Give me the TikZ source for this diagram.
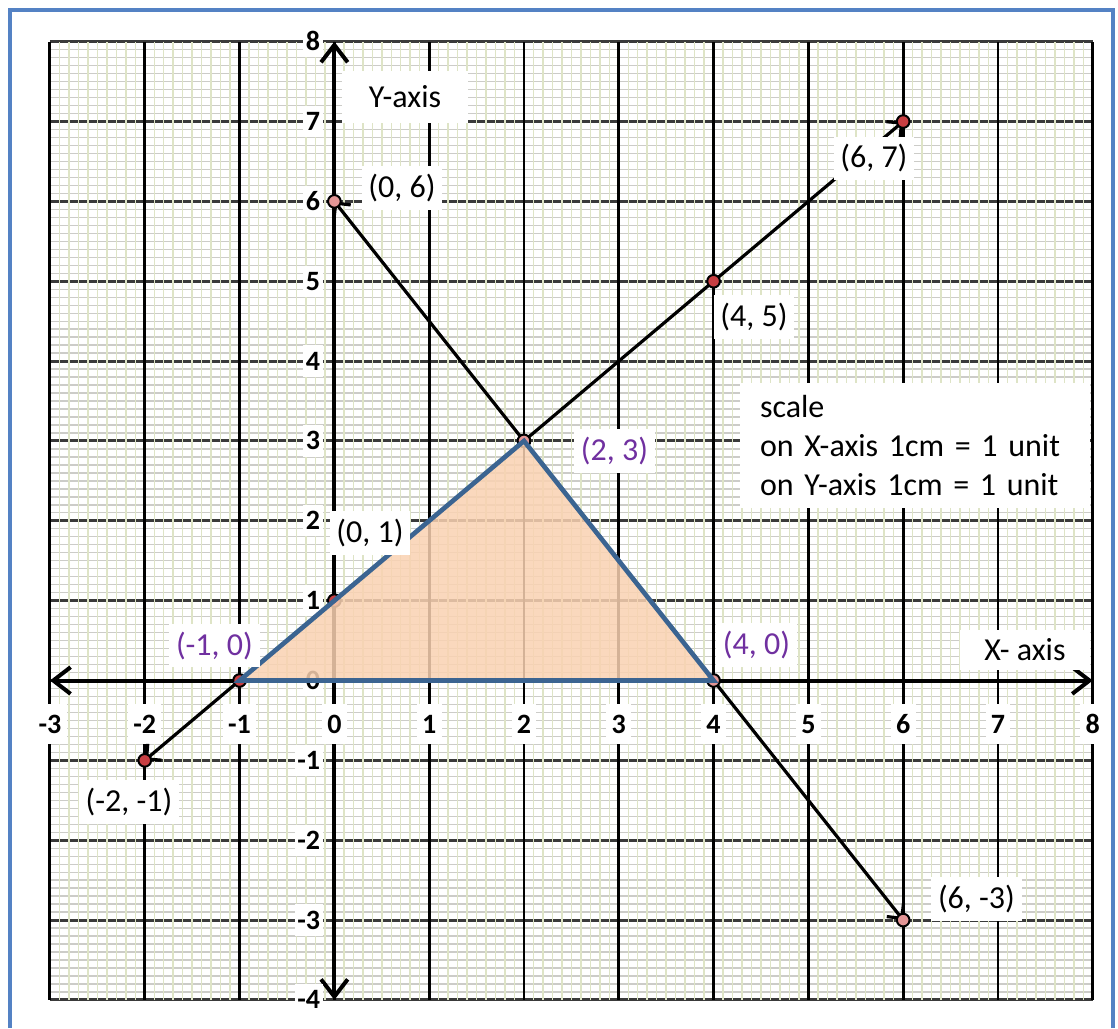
\documentclass[tikz,border=0pt]{standalone}
\usepackage{fontspec}
\setmainfont{Carlito}
\usetikzlibrary{arrows.meta}
\definecolor{frameblue}{RGB}{84,130,196}
\definecolor{vminorc}{RGB}{222,228,198}
\definecolor{hminorc}{RGB}{204,204,200}
\definecolor{hmajorc}{RGB}{58,58,58}
\definecolor{tric}{RGB}{250,210,178}
\definecolor{triedgec}{RGB}{59,100,145}
\definecolor{dotredc}{RGB}{200,62,66}
\definecolor{dotpinkc}{RGB}{228,150,150}
\definecolor{lblpurplec}{RGB}{112,48,160}
\begin{document}
\begin{tikzpicture}[x=71.1pt,y=59.89pt,
  lbl/.style={fill=white, inner xsep=5pt, inner ysep=6pt, font=\fontsize{24}{28}\selectfont},
  xnum/.style={fill=white, inner xsep=4pt, inner ysep=8pt, text height=13.5pt, text depth=0pt, font=\fontsize{21}{25}\selectfont\bfseries},
  ynum/.style={fill=white, anchor=east, inner xsep=2pt, inner ysep=5pt, text height=13.5pt, text depth=0pt, font=\fontsize{21}{25}\selectfont\bfseries},
  dotred/.style={circle, draw=black, line width=1.5pt, minimum size=9.5pt, inner sep=0pt, fill=dotredc},
  dotpink/.style={circle, draw=black, line width=1.5pt, minimum size=9.5pt, inner sep=0pt, fill=dotpinkc},
  axisline/.style={line width=3pt, {Straight Barb[length=13pt,width=20pt]}-{Straight Barb[length=13pt,width=20pt]}},
  graphline/.style={line width=2.4pt, {Straight Barb[length=8pt,width=16pt]}-{Straight Barb[length=8pt,width=16pt]}},
  hminor/.style={hminorc, line width=1pt},
  vminor/.style={vminorc, line width=1.1pt},
  hmajor/.style={hmajorc, line width=2.2pt},
  vmajor/.style={black, line width=2.2pt},
]
% canvas
\fill[white] (-3.527,-4.352) rectangle (8.266,8.522);
\useasboundingbox (-3.527,-4.352) rectangle (8.266,8.522);
\draw[frameblue, line width=3pt] (-3.422,-4.352) -- (-3.422,8.397) -- (8.213,8.397) -- (8.213,-4.352);

% grid
\foreach \i in {-40,...,80} \draw[hminor] (-3,\i/10) -- (8,\i/10);
\foreach \k in {-4,...,8} \draw[hmajor] (-3,\k) -- (8,\k);
\foreach \i in {-30,...,80} \draw[vminor] (\i/10,-4) -- (\i/10,8);
\foreach \k in {-3,...,8} \draw[vmajor] (\k,-4) -- (\k,8);

% axes
\coordinate (xl) at (-3,0);
\coordinate (xr) at (8,0);
\coordinate (yb) at (0,-4);
\coordinate (yt) at (0,8);
\draw[axisline] (xl) -- (xr);
\draw[axisline] (yb) -- (yt);

% axis numbers
\foreach \k in {-3,...,8} \node[xnum] (xn\k) at (\k,-0.545) {\k};
\foreach \k in {-4,...,8} \node[ynum] (yn\k) at (-0.12,\k) {\k\hspace{11pt}};

% points
\coordinate (Pm2m1) at (-2,-1);
\coordinate (Pm10) at (-1,0);
\coordinate (P01) at (0,1);
\coordinate (P23) at (2,3);
\coordinate (P45) at (4,5);
\coordinate (P67) at (6,7);
\coordinate (P06) at (0,6);
\coordinate (P40) at (4,0);
\coordinate (P6m3) at (6,-3);

% graph lines
\draw[graphline] (Pm2m1) -- (P67);
\draw[graphline] (P06) -- (P6m3);

% dots
\node[dotred] (d1) at (Pm2m1) {};
\node[dotred] (d2) at (Pm10) {};
\node[dotred] (d3) at (P01) {};
\node[dotred] (d4) at (P45) {};
\node[dotred] (d5) at (P67) {};
\node[dotpink] (d6) at (P06) {};
\node[dotpink] (d7) at (P23) {};
\node[dotpink] (d8) at (P40) {};
\node[dotpink] (d9) at (P6m3) {};

% triangle
\fill[tric, fill opacity=0.85] (Pm10) -- (P23) -- (P40) -- cycle;
\draw[triedgec, line width=3.5pt] (Pm10) -- (P23) -- (P40) -- cycle;

% labels
\node[lbl, minimum width=94pt, minimum height=39pt] (yaxis) at (0.745,7.307) {Y-axis};
\node[lbl, minimum width=97pt, minimum height=30pt] (xaxis) at (7.285,0.382) {X- axis};
\node[lbl] (l06) at (0.713,6.168) {(0, 6)};
\node[lbl] (l67) at (5.691,6.537) {(6, 7)};
\node[lbl] (l45) at (4.426,4.552) {(4, 5)};
\node[lbl, text=lblpurplec] (l23) at (2.955,2.874) {(2, 3)};
\node[lbl] (l01) at (0.376,1.847) {(0, 1)};
\node[lbl, text=lblpurplec] (lm10) at (-1.265,0.438) {(-1, 0)};
\node[lbl, text=lblpurplec] (l40) at (4.453,0.445) {(4, 0)};
\node[lbl] (lm2m1) at (-2.167,-1.522) {(-2, -1)};
\node[lbl] (l6m3) at (6.773,-2.736) {(6, -3)};
\node[fill=white, minimum width=262.5pt, minimum height=93.75pt, text width=232.5pt,
      inner xsep=15pt, inner ysep=0pt, align=left, font=\fontsize{24}{28.9}\selectfont]
      (scale) at (6.125,2.943) {scale\\on X-axis 1cm = 1 unit\\on Y-axis 1cm = 1 unit};
\end{tikzpicture}
\end{document}
